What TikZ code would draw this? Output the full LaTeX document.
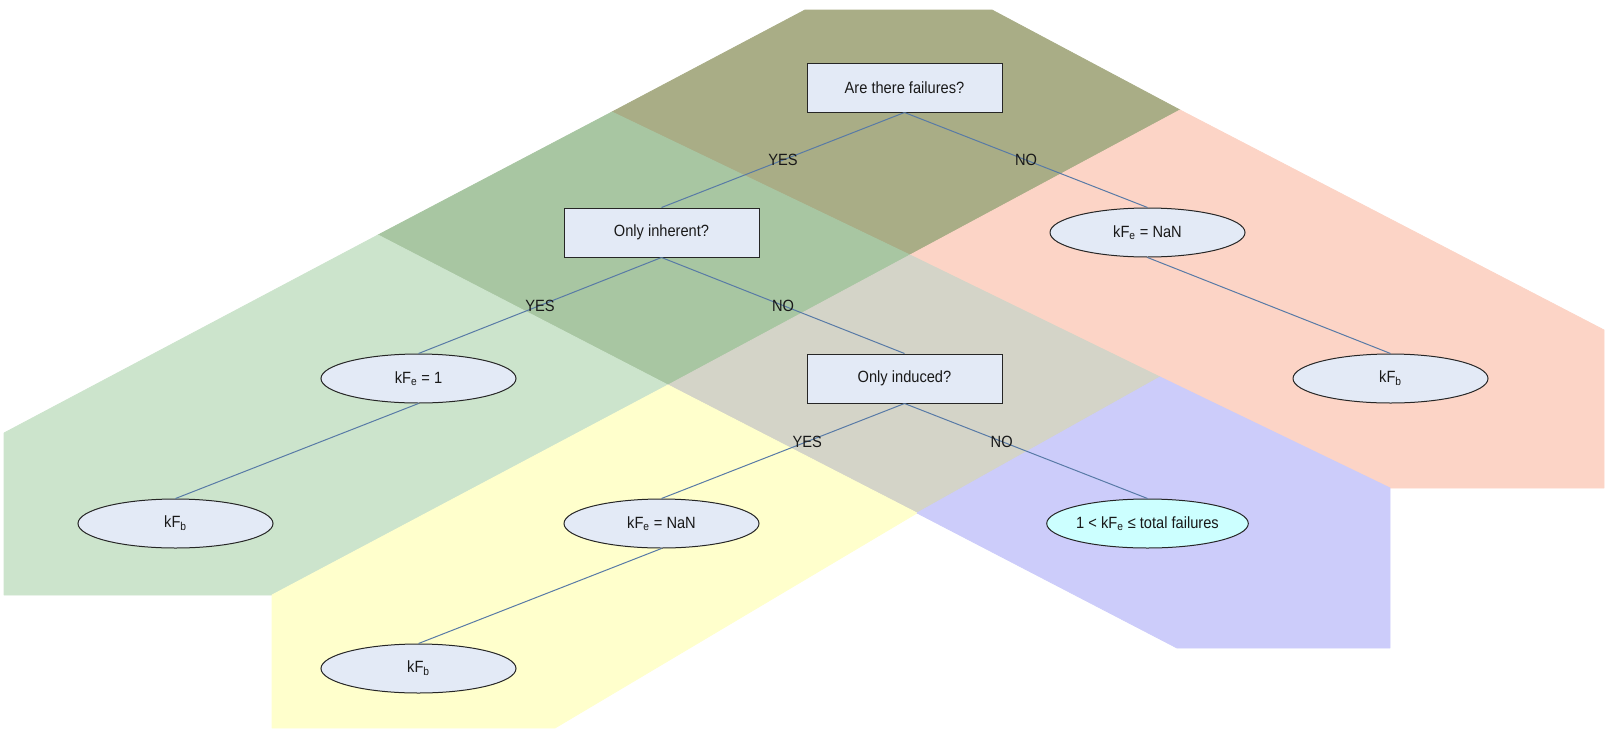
\documentclass[tikz,border=0pt]{standalone}
\usepackage{fontspec}
\setmainfont{Liberation Sans}[FakeStretch=0.9]
\usetikzlibrary{shapes.geometric}
\definecolor{olivebg}{RGB}{169,173,134}
\definecolor{dkgreen}{RGB}{168,198,162}
\definecolor{ltgreen}{RGB}{204,228,204}
\definecolor{pinkbg}{RGB}{252,212,198}
\definecolor{greybg}{RGB}{212,212,200}
\definecolor{yellowbg}{RGB}{255,255,204}
\definecolor{bluebg}{RGB}{204,204,250}
\definecolor{nodefill}{RGB}{227,234,246}
\definecolor{cyanfill}{RGB}{204,255,255}
\definecolor{edgecol}{RGB}{88,122,166}
\tikzset{
  region/.style={fill=#1, draw=#1, line width=0.6pt, line join=round},
  txt/.style={font=\fontsize{12.2pt}{14pt}\selectfont, text=black!90},
  qbox/.style={txt, rectangle, draw=black!85, fill=nodefill, line width=0.75pt,
    minimum width=146.25pt, minimum height=36.75pt, inner sep=0pt},
  oval/.style={txt, ellipse, draw=black!85, fill=nodefill, line width=0.75pt,
    minimum width=146.25pt, minimum height=36.75pt, inner sep=0pt},
  link/.style={draw=edgecol, line width=0.75pt},
  lbl/.style={txt, inner sep=0pt}
}
\begin{document}
\begin{tikzpicture}[x=0.75pt,y=-0.75pt]
\useasboundingbox (0,0) rectangle (1612,728);
% background regions
\fill[region=olivebg] (805,10) -- (992,10) -- (1180,110) -- (910,255) -- (612,112) -- cycle;
\fill[region=dkgreen] (378,235) -- (612,112) -- (910,255) -- (668,385) -- cycle;
\fill[region=ltgreen] (4,433) -- (378,235) -- (668,385) -- (272,595) -- (4,595) -- cycle;
\fill[region=pinkbg] (910,255) -- (1180,110) -- (1604,330) -- (1604,488) -- (1390,488) -- (1160,377) -- cycle;
\fill[region=greybg] (668,385) -- (910,255) -- (1160,377) -- (917,513) -- cycle;
\fill[region=yellowbg] (668,385) -- (917,513) -- (555,728) -- (272,728) -- (272,595) -- cycle;
\fill[region=bluebg] (917,513) -- (1160,377) -- (1390,488) -- (1390,648) -- (1177,648) -- cycle;
% nodes
\node[qbox] (root) at (904.5,87.5) {Are there failures?};
\node[qbox] (inh) at (661.5,232.5) {Only inherent?};
\node[oval] (nan1) at (1147.5,232.5) {kF\textsubscript{e} = NaN};
\node[oval] (one) at (418.5,378.5) {kF\textsubscript{e} = 1};
\node[qbox] (ind) at (904.5,378.5) {Only induced?};
\node[oval] (kfb1) at (1390.5,378.5) {kF\textsubscript{b}};
\node[oval] (kfb2) at (175.5,523.5) {kF\textsubscript{b}};
\node[oval] (nan2) at (661.5,523.5) {kF\textsubscript{e} = NaN};
\node[oval, fill=cyanfill] (tot) at (1147.5,523.5) {1 < kF\textsubscript{e} ≤ total failures};
\node[oval] (kfb3) at (418.5,668.5) {kF\textsubscript{b}};
% connectors
\draw[link] (root.south) -- node[lbl, pos=0.5] {YES} (inh.north);
\draw[link] (root.south) -- node[lbl, pos=0.5] {NO} (nan1.north);
\draw[link] (inh.south) -- node[lbl, pos=0.5] {YES} (one.north);
\draw[link] (inh.south) -- node[lbl, pos=0.5] {NO} (ind.north);
\draw[link] (nan1.south) -- (kfb1.north);
\draw[link] (one.south) -- (kfb2.north);
\draw[link] (ind.south) -- node[lbl, pos=0.4] {YES} (nan2.north);
\draw[link] (ind.south) -- node[lbl, pos=0.4] {NO} (tot.north);
\draw[link] (nan2.south) -- (kfb3.north);
\end{tikzpicture}
\end{document}
